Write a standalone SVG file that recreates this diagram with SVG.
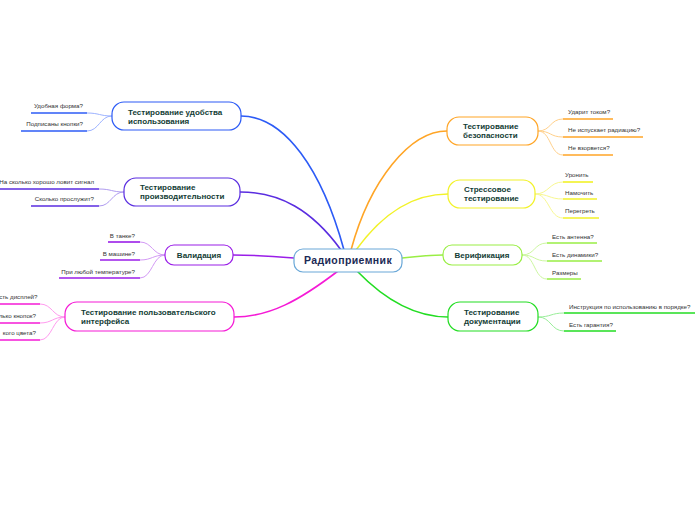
<svg xmlns="http://www.w3.org/2000/svg" width="696" height="520" viewBox="0 0 696 520">
<style>
.n{fill:#fff;stroke-width:1.2}
.t{font-family:"Liberation Sans",Arial,sans-serif;font-weight:bold;font-size:8px;fill:#133d35}
.l{font-family:"Liberation Sans",Arial,sans-serif;font-size:6.2px;fill:#333}
.c{fill:none;stroke-width:1.6;stroke-linecap:round}
.s{fill:none;stroke-width:1}
.u{stroke-width:1.6}
</style>
<rect width="696" height="520" fill="#fff"/>
<g id="connectors">
<path class="c" stroke="#2c5bf6" d="M344,250 C322,170 285,116 241,116"/>
<path class="c" stroke="#5a2de0" d="M341,250 C312,210 280,192 240,192"/>
<path class="c" stroke="#9a1ee8" d="M294,258 C270,256 255,255 233,255"/>
<path class="c" stroke="#f51ad6" d="M338,271 C300,300 270,317 234,317"/>
<path class="c" stroke="#ffa526" d="M351,250 C370,180 410,131 447,131"/>
<path class="c" stroke="#f2f228" d="M356,250 C385,210 415,194 448,194"/>
<path class="c" stroke="#99ee44" d="M402,258 C420,256 430,255 443,255"/>
<path class="c" stroke="#22dd22" d="M357,271 C385,300 415,317 448,317"/>
<g stroke="#9db3ff" class="s">
<path d="M112,116 C100,116 99,113 87,113"/><path d="M112,116 C100,116 99,131 87,131"/>
</g>
<g stroke="#b09cf0" class="s">
<path d="M124,192 C112,192 111,189 99,189"/><path d="M124,192 C112,192 111,206 99,206"/>
</g>
<g stroke="#d39af5" class="s">
<path d="M165,255 C153,255 152,242 140,242"/><path d="M165,255 C153,255 152,260 140,260"/><path d="M165,255 C153,255 152,278 140,278"/>
</g>
<g stroke="#ff9bef" class="s">
<path d="M65,317 C53,317 52,304 40,304"/><path d="M65,317 C53,317 52,323 40,323"/><path d="M65,317 C53,317 52,340 40,340"/>
</g>
<g stroke="#ffd08a" class="s">
<path d="M538,131 C551,131 550,119 563,119"/><path d="M538,131 C551,131 550,137 563,137"/><path d="M538,131 C551,131 550,155 563,155"/>
</g>
<g stroke="#f8f890" class="s">
<path d="M535,194 C549,194 549,182 563,182"/><path d="M535,194 C549,194 549,199 563,199"/><path d="M535,194 C549,194 549,218 563,218"/>
</g>
<g stroke="#ccf7a0" class="s">
<path d="M522,255 C535,255 534,243 547,243"/><path d="M522,255 C535,255 534,261 547,261"/><path d="M522,255 C535,255 534,279 547,279"/>
</g>
<g stroke="#99ee99" class="s">
<path d="M538,317 C551,317 551,313 564,313"/><path d="M538,317 C551,317 551,331 564,331"/>
</g>
</g>
<g id="root">
<rect class="n" x="294" y="249" width="108" height="23" rx="9" stroke="#6aa8d8"/>
<text class="t" x="348" y="264" text-anchor="middle" style="font-size:10.5px;fill:#1b2a55;letter-spacing:0.4px">Радиоприемник</text>
</g>
<g id="usability">
<rect class="n" x="112" y="102" width="129" height="28" rx="12" stroke="#2c5bf6"/>
<text class="t" x="128" y="115">Тестирование удобства</text>
<text class="t" x="128" y="124">использования</text>
<line class="u" x1="31" y1="113" x2="87" y2="113" stroke="#2c5bf6"/>
<text class="l" x="83" y="108" text-anchor="end">Удобная форма?</text>
<line class="u" x1="21" y1="131" x2="87" y2="131" stroke="#2c5bf6"/>
<text class="l" x="83" y="126" text-anchor="end">Подписаны кнопки?</text>
</g>
<g id="performance">
<rect class="n" x="124" y="178" width="116" height="28" rx="12" stroke="#5a2de0"/>
<text class="t" x="140" y="190">Тестирование</text>
<text class="t" x="140" y="199">производительности</text>
<line class="u" x1="0" y1="189" x2="99" y2="189" stroke="#5a2de0"/>
<text class="l" x="94" y="184" text-anchor="end">На сколько хорошо ловит сигнал</text>
<line class="u" x1="31" y1="206" x2="99" y2="206" stroke="#5a2de0"/>
<text class="l" x="94" y="201" text-anchor="end">Сколько прослужит?</text>
</g>
<g id="validation">
<rect class="n" x="165" y="245" width="68" height="20" rx="9" stroke="#9a1ee8"/>
<text class="t" x="199" y="258" text-anchor="middle">Валидация</text>
<line class="u" x1="108" y1="242" x2="140" y2="242" stroke="#9a1ee8"/>
<text class="l" x="135" y="238" text-anchor="end">В танке?</text>
<line class="u" x1="100" y1="260" x2="140" y2="260" stroke="#9a1ee8"/>
<text class="l" x="135" y="256" text-anchor="end">В машине?</text>
<line class="u" x1="59" y1="278" x2="140" y2="278" stroke="#9a1ee8"/>
<text class="l" x="135" y="274" text-anchor="end">При любой температуре?</text>
</g>
<g id="ui">
<rect class="n" x="65" y="302" width="169" height="29" rx="12" stroke="#f51ad6"/>
<text class="t" x="81" y="315">Тестирование пользовательского</text>
<text class="t" x="81" y="324">интерфейса</text>
<line class="u" x1="0" y1="304" x2="40" y2="304" stroke="#f51ad6"/>
<text class="l" x="37.5" y="299" text-anchor="end">сть дисплей?</text>
<line class="u" x1="0" y1="323" x2="40" y2="323" stroke="#f51ad6"/>
<text class="l" x="36" y="318" text-anchor="end">лько кнопок?</text>
<line class="u" x1="0" y1="340" x2="40" y2="340" stroke="#f51ad6"/>
<text class="l" x="36" y="335" text-anchor="end">кого цвета?</text>
</g>
<g id="security">
<rect class="n" x="447" y="117" width="91" height="28" rx="12" stroke="#ffa526"/>
<text class="t" x="463" y="129">Тестирование</text>
<text class="t" x="463" y="138">безопасности</text>
<line class="u" x1="563" y1="119" x2="613" y2="119" stroke="#ffa526"/>
<text class="l" x="568" y="114">Ударит током?</text>
<line class="u" x1="563" y1="137" x2="643" y2="137" stroke="#ffa526"/>
<text class="l" x="568" y="132">Не испускает радиацию?</text>
<line class="u" x1="563" y1="155" x2="613" y2="155" stroke="#ffa526"/>
<text class="l" x="568" y="150">Не взорвется?</text>
</g>
<g id="stress">
<rect class="n" x="448" y="180" width="87" height="28" rx="12" stroke="#f2f228"/>
<text class="t" x="464" y="192">Стрессовое</text>
<text class="t" x="464" y="201">тестирование</text>
<line class="u" x1="563" y1="182" x2="593" y2="182" stroke="#f2f228"/>
<text class="l" x="565" y="177">Уронить</text>
<line class="u" x1="563" y1="199" x2="597" y2="199" stroke="#f2f228"/>
<text class="l" x="565" y="195">Намочить</text>
<line class="u" x1="563" y1="218" x2="599" y2="218" stroke="#f2f228"/>
<text class="l" x="565" y="213">Перегреть</text>
</g>
<g id="verification">
<rect class="n" x="443" y="245" width="79" height="20" rx="9" stroke="#99ee44"/>
<text class="t" x="482" y="258" text-anchor="middle">Верификация</text>
<line class="u" x1="547" y1="243" x2="597" y2="243" stroke="#99ee44"/>
<text class="l" x="552" y="239">Есть антенна?</text>
<line class="u" x1="547" y1="261" x2="602" y2="261" stroke="#99ee44"/>
<text class="l" x="552" y="257">Есть динамики?</text>
<line class="u" x1="547" y1="279" x2="581" y2="279" stroke="#99ee44"/>
<text class="l" x="552" y="275">Размеры</text>
</g>
<g id="documentation">
<rect class="n" x="448" y="302" width="90" height="29" rx="12" stroke="#22dd22"/>
<text class="t" x="464" y="315">Тестирование</text>
<text class="t" x="464" y="324">документации</text>
<line class="u" x1="564" y1="313" x2="695" y2="313" stroke="#22dd22"/>
<text class="l" x="569" y="309">Инструкция по использованию в порядке?</text>
<line class="u" x1="564" y1="331" x2="616" y2="331" stroke="#22dd22"/>
<text class="l" x="569" y="327">Есть гарантия?</text>
</g>
</svg>
